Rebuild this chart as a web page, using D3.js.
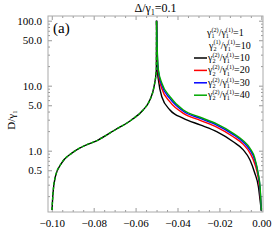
<!DOCTYPE html>
<html>
<head>
<meta charset="utf-8">
<script src="https://cdn.jsdelivr.net/npm/d3@7"></script>
<style>
  body { margin: 0; background: #fff; }
  svg { display: block; }
  svg text { font-family: "Times New Roman", "Liberation Serif", "DejaVu Serif", serif; fill: #000; }
</style>
</head>
<body>
<svg id="chart" width="274" height="247"></svg>
<script>
// left branch, shared by all four curves
const xLeft = [-0.0999, -0.0994, -0.0983, -0.0954, -0.0906, -0.0859, -0.0779, -0.0699, -0.0620, -0.0564, -0.0532, -0.0512, -0.0501, -0.0500];
const dLeft = [0.122, 0.224, 0.398, 0.64, 0.91, 1.13, 1.46, 2.08, 2.97, 4.23, 6.0, 9.66, 17.4, 100];

// right branch
const xRight = [-0.0500, -0.0495, -0.0491, -0.0475, -0.0436, -0.0372, -0.0292, -0.0213, -0.0134, -0.0086, -0.0054, -0.0031, -0.0014, -0.0006, 0.0];
const dBlack = [100, 16.0, 12.2, 6.77, 4.23, 3.15, 2.49, 1.96, 1.37, 1.03, 0.72, 0.45, 0.28, 0.174, 0.12];
const dRed   = [100, 20.9, 15.1, 9.06, 5.62, 3.76, 2.93, 2.31, 1.64, 1.25, 0.92, 0.625, 0.372, 0.232, 0.12];
const dBlue  = [100, 23.4, 16.5, 10.2, 6.34, 4.05, 3.14, 2.48, 1.77, 1.35, 1.02, 0.72, 0.42, 0.26, 0.12];
const dGreen = [100, 25.0, 17.4, 11.0, 6.8, 4.23, 3.27, 2.58, 1.85, 1.42, 1.09, 0.77, 0.43, 0.28, 0.12];

const ratios = ["10", "20", "30", "40"];
const colors = ["#000000", "#ff0000", "#0000ff", "#00a800"];
const rightSeries = [dBlack, dRed, dBlue, dGreen];

const xTicks = [-0.10, -0.08, -0.06, -0.04, -0.02, 0.00];
const yTicks = [0.5, 1, 5, 10, 50, 100];

const W = 274, H = 247;
const m = { left: 48, right: 11, top: 16, bottom: 35 };
const serif = '"Times New Roman", "Liberation Serif", "DejaVu Serif", serif';

const svg = d3.select("#chart");

const x = d3.scaleLinear().domain([-0.1018, 0.0008]).range([m.left, W - m.right]);
const y = d3.scaleLog().domain([0.114, 118]).range([H - m.bottom, m.top]);

const x0 = m.left, x1 = W - m.right, y0 = H - m.bottom, y1 = m.top;

// minor ticks
const xMinor = d3.range(-0.10, 0.0001, 0.005).filter(v => !xTicks.some(t => Math.abs(t - v) < 1e-9));
const yMinor = [];
[0.1, 1, 10].forEach(dec => d3.range(1, 10).forEach(k => {
  const v = k * dec;
  if (v >= y.domain()[0] && v <= y.domain()[1] && !yTicks.some(t => Math.abs(t - v) < 1e-9)) yMinor.push(v);
}));

svg.append("clipPath").attr("id", "clip")
  .append("rect").attr("x", x0).attr("y", y1).attr("width", x1 - x0).attr("height", y0 - y1);

const tickColor = "#999";
const axes = svg.append("g");

function styleAxis(g) {
  g.attr("font-family", serif);
  g.select(".domain").remove();
  g.selectAll(".tick line").attr("stroke", tickColor);
  g.selectAll(".tick text").attr("font-size", 11).attr("fill", "#000");
}

// bottom / top
axes.append("g").attr("transform", `translate(0,${y0})`)
  .call(d3.axisBottom(x).tickValues(xTicks).tickSizeInner(-4).tickPadding(7).tickFormat(d3.format(".2f")))
  .call(styleAxis);
axes.append("g").attr("transform", `translate(0,${y0})`)
  .call(d3.axisBottom(x).tickValues(xMinor).tickSizeInner(-2).tickFormat(""))
  .call(styleAxis);
axes.append("g").attr("transform", `translate(0,${y1})`)
  .call(d3.axisTop(x).tickValues(xTicks).tickSizeInner(-4).tickFormat(""))
  .call(styleAxis);
axes.append("g").attr("transform", `translate(0,${y1})`)
  .call(d3.axisTop(x).tickValues(xMinor).tickSizeInner(-2).tickFormat(""))
  .call(styleAxis);

// left / right
axes.append("g").attr("transform", `translate(${x0},0)`)
  .call(d3.axisLeft(y).tickValues(yTicks).tickSizeInner(-4).tickPadding(6).tickFormat(d3.format(".1f")))
  .call(styleAxis);
axes.append("g").attr("transform", `translate(${x0},0)`)
  .call(d3.axisLeft(y).tickValues(yMinor).tickSizeInner(-2).tickFormat(""))
  .call(styleAxis);
axes.append("g").attr("transform", `translate(${x1},0)`)
  .call(d3.axisRight(y).tickValues(yTicks).tickSizeInner(-4).tickFormat(""))
  .call(styleAxis);
axes.append("g").attr("transform", `translate(${x1},0)`)
  .call(d3.axisRight(y).tickValues(yMinor).tickSizeInner(-2).tickFormat(""))
  .call(styleAxis);

svg.append("rect").attr("x", x0).attr("y", y1).attr("width", x1 - x0).attr("height", y0 - y1)
  .attr("fill", "none").attr("stroke", "#aaa").attr("stroke-width", 1);

// curves
const line = d3.line().x(d => x(d[0])).y(d => y(d[1])).curve(d3.curveMonotoneX);
const plot = svg.append("g").attr("clip-path", "url(#clip)");

const leftPts = xLeft.map((v, i) => [v, dLeft[i]]);

plot.append("path").datum(leftPts)
  .attr("d", line).attr("fill", "none").attr("stroke", colors[0]).attr("stroke-width", 1.4);

rightSeries.forEach((vals, k) => {
  plot.append("path").datum(xRight.map((v, i) => [v, vals[i]]))
    .attr("d", line).attr("fill", "none").attr("stroke", colors[k]).attr("stroke-width", 1.4);
});

plot.append("path").datum(leftPts)
  .attr("d", line).attr("fill", "none").attr("stroke", colors[3]).attr("stroke-width", 1.4)
  .attr("stroke-dasharray", "3,2");

// rich text helper: pieces are plain text or stacked sup/sub
function rich(g, px, py, pieces, size) {
  let cx = px;
  pieces.forEach(p => {
    if (p.t !== undefined) {
      const t = g.append("text").attr("x", cx).attr("y", py).attr("font-size", size)
        .attr("font-family", serif).text(p.t);
      cx += t.node().getComputedTextLength();
    } else {
      const s = size * 0.62;
      const a = g.append("text").attr("x", cx).attr("y", py - size * 0.42).attr("font-size", s)
        .attr("font-family", serif).text(p.sup || "");
      const b = g.append("text").attr("x", cx).attr("y", py + size * 0.22).attr("font-size", s)
        .attr("font-family", serif).text(p.sub || "");
      cx += Math.max(a.node().getComputedTextLength(), b.node().getComputedTextLength());
    }
  });
  return cx - px;
}

// title
const tg = svg.append("g");
const tw = rich(tg, 0, 12, [{ t: "Δ/γ" }, { sub: "1" }, { t: "=0.1" }], 12);
tg.attr("transform", `translate(${(x0 + x1) / 2 - tw / 2},0)`);

// panel label
svg.append("text").attr("x", 53).attr("y", 33).attr("font-size", 15).attr("font-family", serif).text("(a)");

// y label
const yg = svg.append("g");
const yw = rich(yg, 0, 0, [{ t: "D/γ" }, { sub: "1" }], 11);
yg.attr("transform", `translate(15,${(y0 + y1) / 2 + yw / 2 + 6}) rotate(-90)`);

// legend
const lg = svg.append("g");
const fs = 10;
rich(lg, 207, 36, [{ t: "γ" }, { sup: "(2)", sub: "1" }, { t: "/γ" }, { sup: "(1)", sub: "1" }, { t: "=1" }], fs);
rich(lg, 209, 48.5, [{ t: "γ" }, { sup: "(1)", sub: "2" }, { t: "/γ" }, { sup: "(1)", sub: "1" }, { t: "=10" }], fs);
ratios.forEach((r, i) => {
  const ly = 61 + i * 12.4;
  lg.append("line").attr("x1", 194).attr("x2", 207).attr("y1", ly - 3).attr("y2", ly - 3)
    .attr("stroke", colors[i]).attr("stroke-width", 1.5);
  rich(lg, 208, ly, [{ t: "γ" }, { sup: "(2)", sub: "2" }, { t: "/γ" }, { sup: "(1)", sub: "1" }, { t: "=" + r }], fs);
});
</script>
</body>
</html>
